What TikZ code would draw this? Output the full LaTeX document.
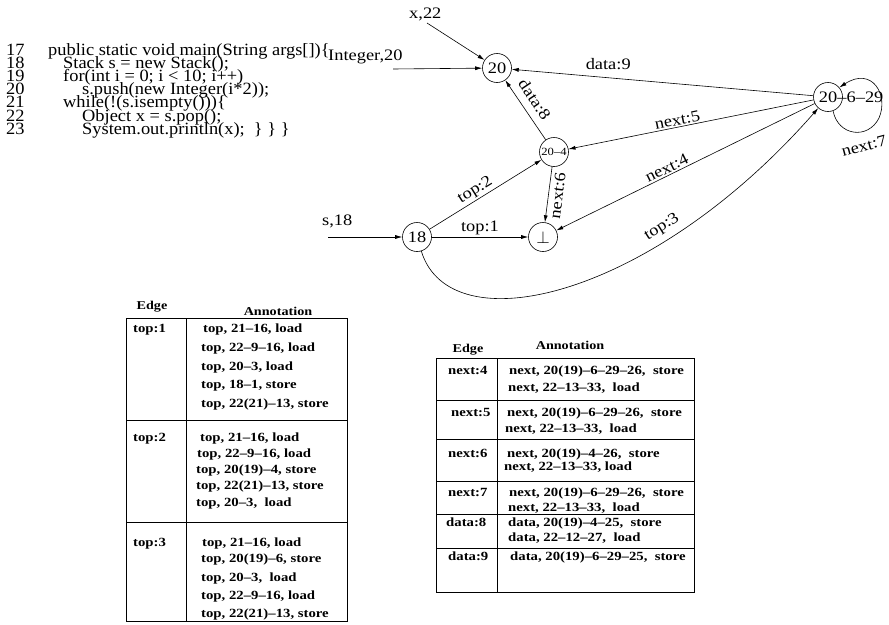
\documentclass[tikz,border=0pt]{standalone}
\usepackage{graphicx}
\usepackage{fontspec}
\setmainfont{Liberation Serif}
\usetikzlibrary{arrows.meta}
\newcommand\hsx[1]{\scalebox{1.15}[1]{#1}}
\newcommand\hsc[1]{\scalebox{1.07}[1]{#1}}
\newcommand\hsb[1]{\scalebox{1.18}[1]{#1}}
\tikzset{
  st/.style={circle, draw, minimum size=29pt, inner sep=0pt, line width=0.6pt, font=\fontsize{16}{16}\selectfont},
  lab/.style={font=\fontsize{16}{16}\selectfont, inner sep=1.5pt},
  code/.style={anchor=base west, inner sep=0pt, font=\fontsize{16}{16}\selectfont},
  pcode/.style={anchor=base west, inner sep=0pt, font=\fontsize{17.2}{17.2}\selectfont},
  arr/.style={-{Latex[length=7pt,width=4pt]}, line width=0.6pt},
  tb/.style={anchor=base west, inner sep=0pt, font=\fontsize{12.5}{12.5}\selectfont\bfseries},
  th/.style={anchor=base, inner sep=0pt, font=\fontsize{12}{12}\selectfont\bfseries},
  tline/.style={line width=0.8pt}
}
\begin{document}
\begin{tikzpicture}[x=1pt,y=-1pt]
\useasboundingbox (0,0) rectangle (889,624);
% code
\node[pcode] (l17n) at (6,55) {\hsc{17}};
\node[pcode] (l18n) at (6,68.2) {\hsc{18}};
\node[pcode] (l19n) at (6,81.4) {\hsc{19}};
\node[pcode] (l20n) at (6,94.6) {\hsc{20}};
\node[pcode] (l21n) at (6,107.8) {\hsc{21}};
\node[pcode] (l22n) at (6,121) {\hsc{22}};
\node[pcode] (l23n) at (6,134.2) {\hsc{23}};
\node[pcode] (l17) at (48,55) {\hsc{public static void main(String args[])\{}};
\node[pcode] (l18) at (63,68.2) {\hsc{Stack s = new Stack();}};
\node[pcode] (l19) at (63,81.4) {\hsc{for(int i = 0; i < 10; i++)}};
\node[pcode] (l20) at (82,94.6) {\hsc{s.push(new Integer(i*2));}};
\node[pcode] (l21) at (63,107.8) {\hsc{while(!(s.isempty()))\{}};
\node[pcode] (l22) at (82,121) {\hsc{Object x = s.pop();}};
\node[pcode] (l23) at (82,134.2) {\hsc{System.out.println(x);~ \} \} \}}};
% graph nodes
\node[st] (n20) at (497,68) {\hsx{20}};
\node[st] (n204) at (554,152) {\fontsize{11}{11}\selectfont\hsx{20–4}};
\node[st] (nbot) at (543,237) {$\perp$};
\node[st] (n18) at (417,237) {\hsx{18}};
\node[st] (n2029) at (828,97) {\hsx{20}};
\node[code] (t2029) at ([xshift=9.2pt]n2029.base) {\hsx{–6–29}};
% inputs
\node[code] (tx22) at (409,18) {\hsx{x,22}};
\coordinate (cx22) at (427,23);
\node[code] (tint) at (328,60) {\hsx{Integer,20}};
\coordinate (cint) at (393,69);
\node[code] (ts18) at (322,225) {\hsx{s,18}};
\coordinate (cs18) at (328,237);
\draw[arr] (cx22) -- (n20);
\draw[arr] (cint) -- (n20);
\draw[arr] (cs18) -- (n18);
% edges
\draw[arr] (n2029) -- node[lab, above=6pt, pos=0.68]{\hsx{data:9}} (n20);
\draw[arr] (n2029) -- node[lab, sloped, above, pos=0.55]{\hsx{next:5}} (n204);
\draw[arr] (n2029) -- node[lab, sloped, above, pos=0.56]{\hsx{next:4}} (nbot);
\draw[arr] (n204) -- node[lab, sloped, below=2pt, pos=0.5]{\hsx{next:6}} (nbot);
\draw[arr] (n204) -- node[lab, sloped, above=6pt, pos=0.55]{\hsx{data:8}} (n20);
\draw[arr] (n18) -- node[lab, sloped, above, pos=0.45]{\hsx{top:2}} (n204);
\draw[arr] (n18) -- node[lab, above, pos=0.5]{\hsx{top:1}} (nbot);
\draw[arr] (n18) .. controls (450,345) and (650,300) .. node[lab, sloped, above=4pt, pos=0.71]{\hsx{top:3}} (n2029);
\draw[arr] (n2029.-70) .. controls (838,136) and (868,140) .. (879,118) .. controls (889,95) and (872,66) .. (n2029.40) node[lab, rotate=15] at (864,146) {\hsx{next:7}};
% table 1
\node[th] (h1e) at (152,309) {\hsb{Edge}};
\node[th] (h1a) at (278,315) {\hsb{Annotation}};
\draw[tline] (126,318) rectangle (347,621);
\draw[tline] (186,318) -- (186,621);
\draw[tline] (126,420) -- (347,420);
\draw[tline] (126,522) -- (347,522);
\node[tb] at (133,332) {\hsb{top:1}};
\node[tb] at (203,332) {\hsb{top, 21–16, load}};
\node[tb] at (201,351) {\hsb{top, 22–9–16, load}};
\node[tb] at (201,370) {\hsb{top, 20–3, load}};
\node[tb] at (201,388) {\hsb{top, 18–1, store}};
\node[tb] at (201,407) {\hsb{top, 22(21)–13, store}};
\node[tb] at (133,441) {\hsb{top:2}};
\node[tb] at (200,441) {\hsb{top, 21–16, load}};
\node[tb] at (197,457) {\hsb{top, 22–9–16, load}};
\node[tb] at (196,473) {\hsb{top, 20(19)–4, store}};
\node[tb] at (196,489) {\hsb{top, 22(21)–13, store}};
\node[tb] at (196,506) {\hsb{top, 20–3,~ load}};
\node[tb] at (133,546) {\hsb{top:3}};
\node[tb] at (202,546) {\hsb{top, 21–16, load}};
\node[tb] at (201,562) {\hsb{top, 20(19)–6, store}};
\node[tb] at (201,581) {\hsb{top, 20–3,~ load}};
\node[tb] at (201,599) {\hsb{top, 22–9–16, load}};
\node[tb] at (201,617) {\hsb{top, 22(21)–13, store}};
% table 2
\node[th] (h2e) at (468,352) {\hsb{Edge}};
\node[th] (h2a) at (570,349) {\hsb{Annotation}};
\draw[tline] (436,358) rectangle (694,592);
\draw[tline] (497,358) -- (497,592);
\draw[tline] (436,400) -- (694,400);
\draw[tline] (436,439) -- (694,439);
\draw[tline] (436,481) -- (694,481);
\draw[tline] (436,514) -- (694,514);
\draw[tline] (436,548) -- (694,548);
\node[tb] at (448,374) {\hsb{next:4}};
\node[tb] at (509,374) {\hsb{next, 20(19)–6–29–26,~ store}};
\node[tb] at (508,391) {\hsb{next, 22–13–33,~ load}};
\node[tb] at (451,416) {\hsb{next:5}};
\node[tb] at (507,416) {\hsb{next, 20(19)–6–29–26,~ store}};
\node[tb] at (505,432) {\hsb{next, 22–13–33,~ load}};
\node[tb] at (448,457) {\hsb{next:6}};
\node[tb] at (507,457) {\hsb{next, 20(19)–4–26,~ store}};
\node[tb] at (504,470) {\hsb{next, 22–13–33, load}};
\node[tb] at (448,496) {\hsb{next:7}};
\node[tb] at (509,496) {\hsb{next, 20(19)–6–29–26,~ store}};
\node[tb] at (508,511) {\hsb{next, 22–13–33,~ load}};
\node[tb] at (446,526) {\hsb{data:8}};
\node[tb] at (508,526) {\hsb{data, 20(19)–4–25,~ store}};
\node[tb] at (508,541) {\hsb{data, 22–12–27,~ load}};
\node[tb] at (448,560) {\hsb{data:9}};
\node[tb] at (510,560) {\hsb{data, 20(19)–6–29–25,~ store}};
\end{tikzpicture}
\end{document}
